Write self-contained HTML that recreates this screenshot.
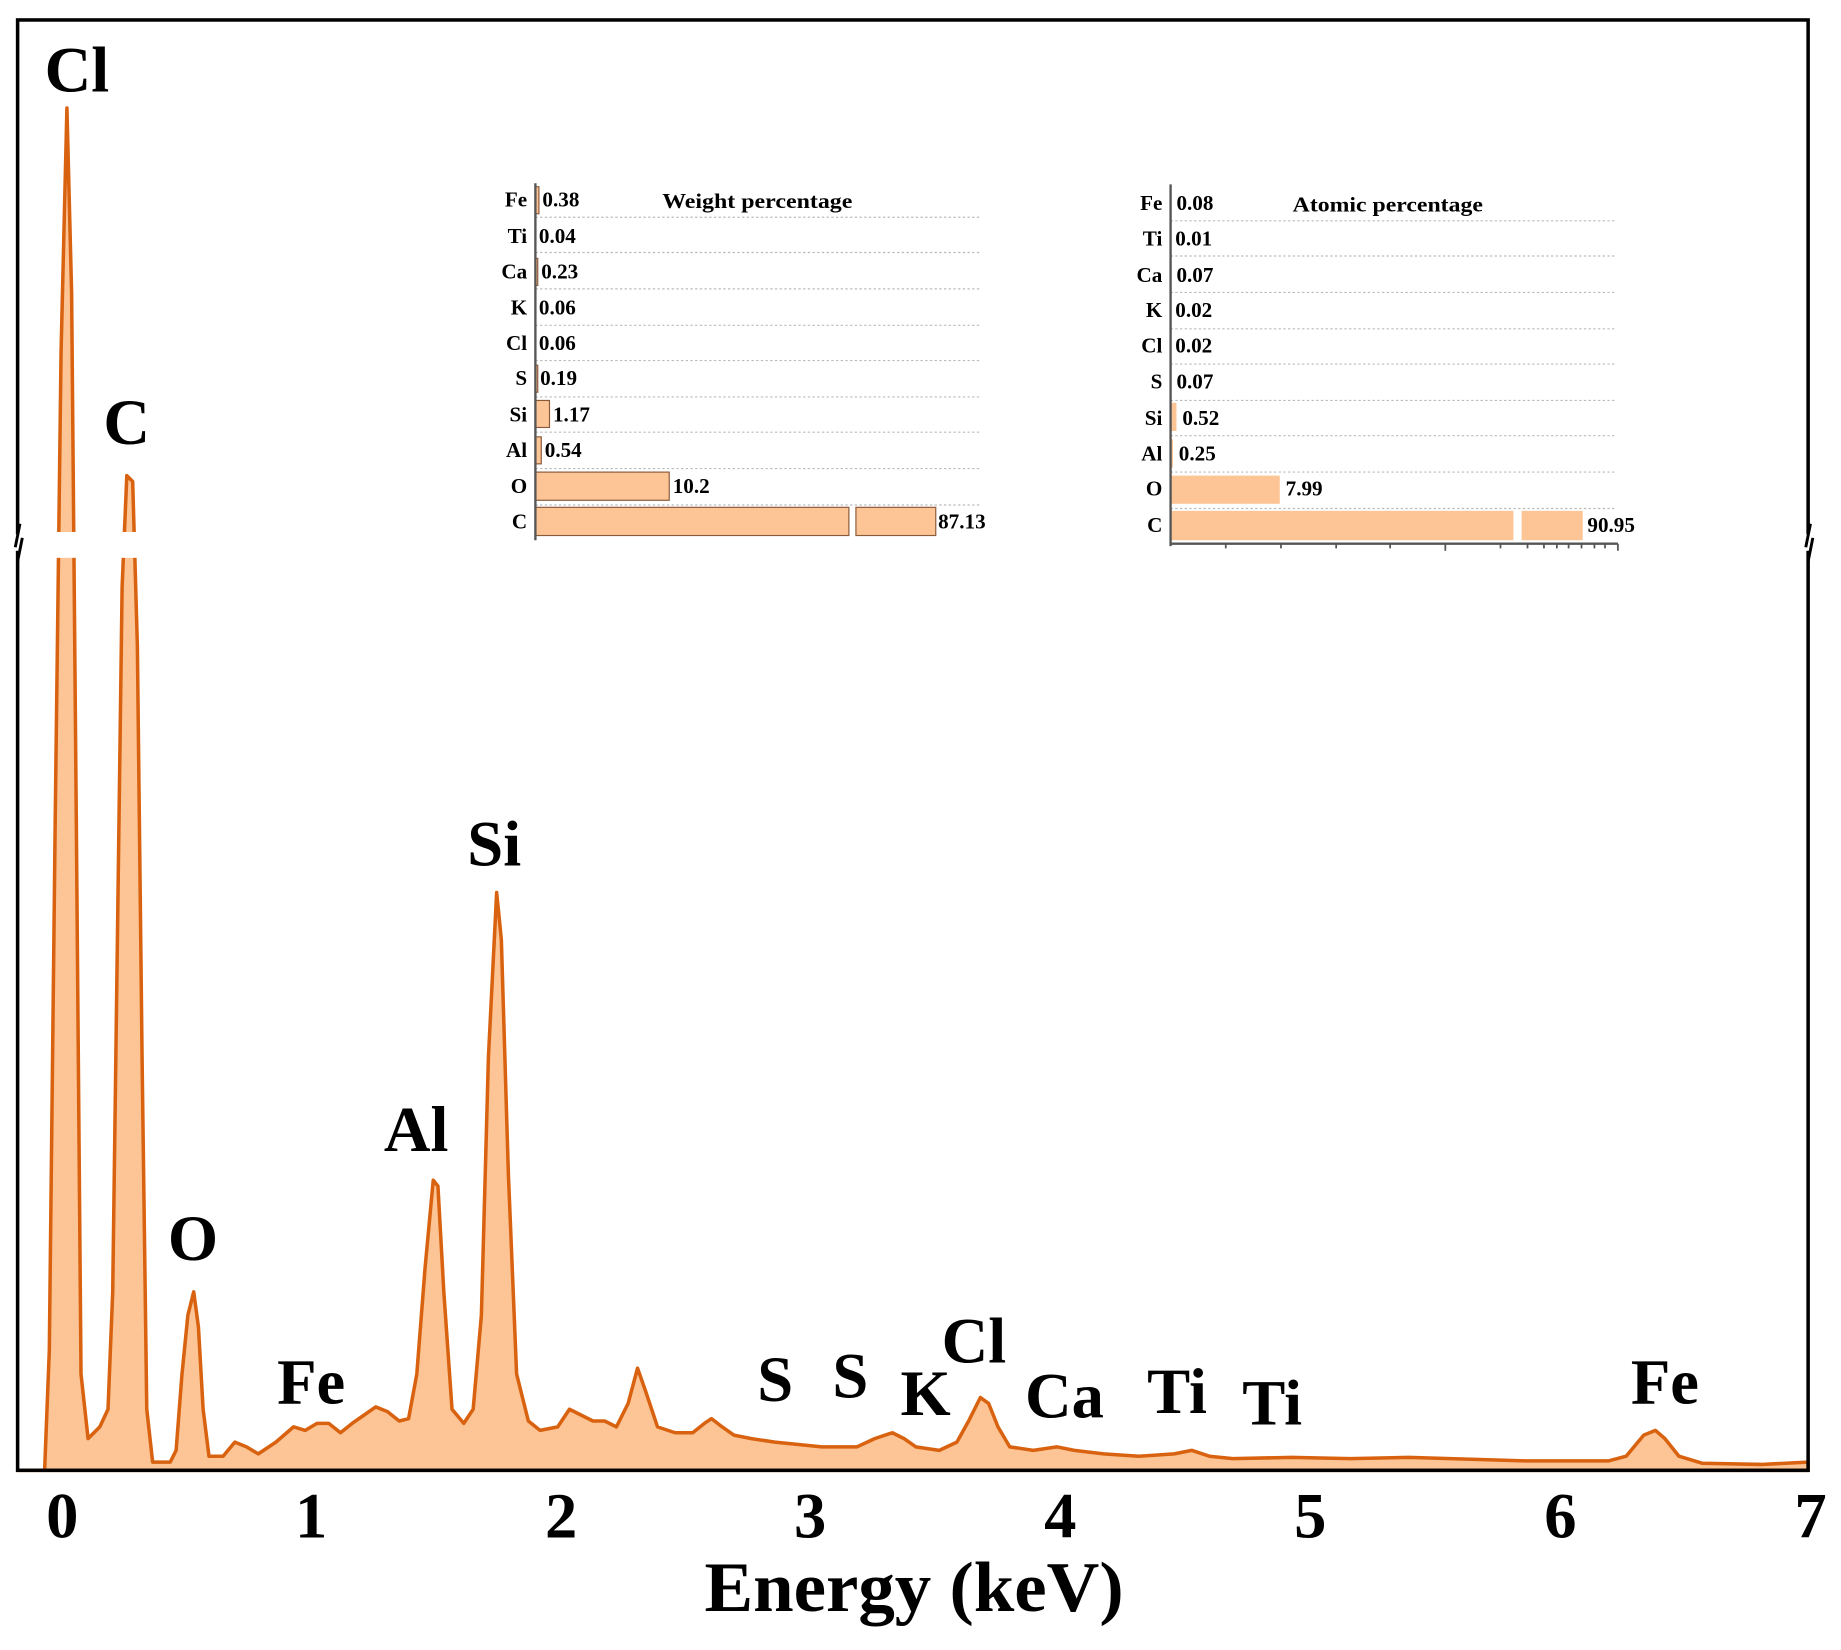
<!DOCTYPE html>
<html><head><meta charset="utf-8"><style>
html,body{margin:0;padding:0;background:#fff;}
svg{display:block;}
text{font-family:"Liberation Serif",serif;font-weight:bold;fill:#000;}
</style></head><body>
<svg width="1841" height="1650" viewBox="0 0 1568 1405" preserveAspectRatio="none">
<path d="M15,1252 L38,1252 L42,1150 L47,700 L52,300 L57,92 L61,250 L65,700 L69,1170 L75,1225 L85,1215 L92,1200 L96,1100 L100,800 L104,500 L108,405 L113,410 L117,550 L121,900 L125,1200 L130,1245 L145,1245 L150,1235 L155,1170 L160,1120 L165,1100 L169,1130 L173,1200 L178,1240 L190,1240 L200,1228 L210,1232 L220,1238 L235,1228 L250,1215 L260,1218 L270,1212 L280,1212 L290,1220 L300,1212 L310,1205 L320,1198 L330,1202 L340,1210 L348,1208 L355,1170 L362,1080 L369,1005 L373,1010 L378,1100 L385,1200 L395,1212 L403,1200 L410,1120 L416,900 L423,760 L427,800 L433,1000 L440,1170 L450,1210 L460,1218 L475,1215 L485,1200 L495,1205 L505,1210 L515,1210 L525,1215 L535,1195 L543,1165 L550,1185 L560,1215 L575,1220 L590,1220 L600,1212 L606,1208 L615,1215 L625,1222 L640,1225 L660,1228 L680,1230 L700,1232 L730,1232 L745,1225 L760,1220 L770,1225 L780,1232 L800,1235 L815,1228 L825,1210 L835,1190 L842,1195 L850,1215 L860,1232 L880,1235 L900,1232 L915,1235 L940,1238 L970,1240 L1000,1238 L1015,1235 L1030,1240 L1050,1242 L1100,1241 L1150,1242 L1200,1241 L1300,1244 L1370,1244 L1385,1240 L1400,1222 L1410,1218 L1418,1225 L1430,1240 L1450,1246 L1500,1247 L1540,1245 L1540,1252 Z" fill="#fdc596" stroke="#d8620f" stroke-width="3" stroke-linejoin="round"/>
<rect x="20" y="453" width="150" height="22" fill="#fff"/>
<rect x="15" y="17" width="1525" height="1235" fill="none" stroke="#000" stroke-width="3"/>
<rect x="8" y="455" width="14" height="14" fill="#fff"/>
<rect x="1533" y="455" width="14" height="14" fill="#fff"/>
<path d="M17,446 L13,466 M19,458 L15,478" stroke="#000" stroke-width="2.5"/>
<path d="M1542,446 L1538,466 M1544,458 L1540,478" stroke="#000" stroke-width="2.5"/>
<g font-size="55" text-anchor="middle">
<text x="53" y="1309">0</text><text x="265" y="1309">1</text><text x="478" y="1309">2</text><text x="690" y="1309">3</text><text x="903" y="1309">4</text><text x="1116" y="1309">5</text><text x="1329" y="1309">6</text><text x="1542" y="1309">7</text>
</g>
<text x="600" y="1372" font-size="60" textLength="357" lengthAdjust="spacingAndGlyphs">Energy (keV)</text>
<g font-size="55">
<text x="38" y="78">Cl</text><text x="88" y="378">C</text><text x="143" y="1073">O</text><text x="236" y="1195">Fe</text><text x="327" y="980">Al</text><text x="398" y="737">Si</text><text x="645" y="1193">S</text><text x="709" y="1190">S</text><text x="767" y="1205">K</text><text x="802" y="1160">Cl</text><text x="873" y="1207">Ca</text><text x="977" y="1203">Ti</text><text x="1058" y="1213">Ti</text><text x="1389" y="1195">Fe</text>
</g>
<g stroke="#bbb" stroke-width="1" stroke-dasharray="2,2">
<line x1="456" y1="185" x2="836" y2="185"/><line x1="456" y1="215" x2="836" y2="215"/><line x1="456" y1="246" x2="836" y2="246"/><line x1="456" y1="277" x2="836" y2="277"/><line x1="456" y1="307" x2="836" y2="307"/><line x1="456" y1="338" x2="836" y2="338"/><line x1="456" y1="368" x2="836" y2="368"/><line x1="456" y1="399" x2="836" y2="399"/><line x1="456" y1="430" x2="836" y2="430"/>
</g>
<g fill="#fdc596" stroke="#8a5a3a" stroke-width="1">
<rect x="456" y="159" width="3" height="23"/><rect x="456" y="220" width="2" height="23"/><rect x="456" y="311" width="2" height="23"/><rect x="456" y="341" width="12" height="23"/><rect x="456" y="372" width="5" height="23"/><rect x="456" y="402" width="114" height="24"/><rect x="456" y="432" width="267" height="24"/><rect x="729" y="432" width="68" height="24"/>
</g>
<line x1="456" y1="156" x2="456" y2="460" stroke="#555" stroke-width="2"/>
<g font-size="18" text-anchor="end">
<text x="449" y="176">Fe</text><text x="449" y="207">Ti</text><text x="449" y="237">Ca</text><text x="449" y="268">K</text><text x="449" y="298">Cl</text><text x="449" y="328">S</text><text x="449" y="359">Si</text><text x="449" y="389">Al</text><text x="449" y="420">O</text><text x="449" y="450">C</text>
</g>
<g font-size="18">
<text x="462" y="176">0.38</text><text x="459" y="207">0.04</text><text x="461" y="237">0.23</text><text x="459" y="268">0.06</text><text x="459" y="298">0.06</text><text x="460" y="328">0.19</text><text x="471" y="359">1.17</text><text x="464" y="389">0.54</text><text x="573" y="420">10.2</text><text x="799" y="450">87.13</text>
<text x="564" y="177" textLength="162" lengthAdjust="spacingAndGlyphs">Weight percentage</text>
</g>
<g stroke="#bbb" stroke-width="1" stroke-dasharray="2,2">
<line x1="997" y1="188" x2="1377" y2="188"/><line x1="997" y1="218" x2="1377" y2="218"/><line x1="997" y1="249" x2="1377" y2="249"/><line x1="997" y1="280" x2="1377" y2="280"/><line x1="997" y1="310" x2="1377" y2="310"/><line x1="997" y1="341" x2="1377" y2="341"/><line x1="997" y1="371" x2="1377" y2="371"/><line x1="997" y1="402" x2="1377" y2="402"/><line x1="997" y1="433" x2="1377" y2="433"/>
</g>
<g fill="#fdc596">
<rect x="997" y="343" width="5" height="24"/><rect x="997" y="374" width="2" height="24"/><rect x="997" y="405" width="93" height="24"/><rect x="997" y="435" width="292" height="25"/><rect x="1296" y="435" width="52" height="25"/>
</g>
<line x1="997" y1="157" x2="997" y2="465" stroke="#555" stroke-width="2"/>
<line x1="997" y1="463" x2="1378" y2="463" stroke="#555" stroke-width="2"/>
<path d="M1044,463v4M1091,463v4M1138,463v4M1184,463v4M1231,463v6M1278,463v4M1301,463v4M1315,463v4M1326,463v4M1336,463v4M1347,463v4M1358,463v4M1367,463v4M1378,463v6" stroke="#555" stroke-width="1.5"/>
<g font-size="18" text-anchor="end">
<text x="990" y="179">Fe</text><text x="990" y="209">Ti</text><text x="990" y="240">Ca</text><text x="990" y="270">K</text><text x="990" y="300">Cl</text><text x="990" y="331">S</text><text x="990" y="362">Si</text><text x="990" y="392">Al</text><text x="990" y="422">O</text><text x="990" y="453">C</text>
</g>
<g font-size="18">
<text x="1002" y="179">0.08</text><text x="1001" y="209">0.01</text><text x="1002" y="240">0.07</text><text x="1001" y="270">0.02</text><text x="1001" y="300">0.02</text><text x="1002" y="331">0.07</text><text x="1007" y="362">0.52</text><text x="1004" y="392">0.25</text><text x="1095" y="422">7.99</text><text x="1352" y="453">90.95</text>
<text x="1101" y="180" textLength="162" lengthAdjust="spacingAndGlyphs">Atomic percentage</text>
</g>
</svg>
</body></html>
